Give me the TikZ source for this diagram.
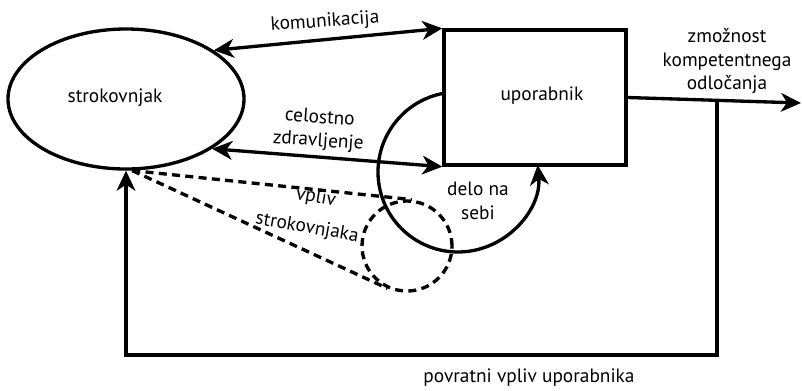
\documentclass[tikz,border=0pt]{standalone}
\usepackage{fontspec}
\setmainfont{PT Sans}
\usetikzlibrary{arrows.meta,shapes.geometric,calc}
\begin{document}
\begin{tikzpicture}[x=0.75pt,y=-0.75pt,
  line width=2.5pt,
  lbl/.style={font=\fontsize{14.5}{17.5}\selectfont, inner sep=0pt, align=center},
  dsh/.style={dash pattern=on 6pt off 4pt},
  >={Stealth[length=15pt,width=14pt,inset=4.5pt]}]
\useasboundingbox (0,0) rectangle (802,390);
% main shapes
\node[draw, ellipse, minimum width=177pt, minimum height=105pt, inner sep=0pt] (s) at (126,99) {};
\node[lbl] (stxt) at (115,98) {strokovnjak};
\node[draw, minimum width=136.5pt, minimum height=101.25pt, inner sep=0pt] (u) at (535,97.5) {};
\node[lbl] (utxt) at (542,96) {uporabnik};
% dashed influence circle
\node[draw, dsh, circle, minimum size=67.5pt, inner sep=0pt] (dc) at (407,246) {};
\coordinate (sp) at (s.-85);
\draw[dsh] (sp) -- (tangent cs:node=dc,point={(sp)},solution=1);
\draw[dsh] (sp) -- (tangent cs:node=dc,point={(sp)},solution=2);
% arrows between
\draw[<->] (s.29) -- (u.north west);
\draw[<->] (s.-30) -- (u.south west);
\coordinate (outend) at (801,103);
\draw[->] (u.east) -- (outend);
% delo na sebi arc
\coordinate (arcstart) at (444.1,93.2);
\draw[->] (arcstart) arc[start angle=100, end angle=365, radius=60pt];
% feedback
\coordinate (fb) at (717,100.4);
\coordinate (fbc) at (717,355);
\draw[->] (fb) -- (fbc) -| (s.south);
% labels
\node[lbl, rotate=4] (lkom) at (325,22) {komunikacija};
\node[lbl, rotate=-4] (lcel) at (319,130) {celostno\\zdravljenje};
\node[lbl] (lzm) at (727,61) {zmožnost\\kompetentnega\\odločanja};
\node[lbl] (ldel) at (478,201) {delo na\\sebi};
\node[lbl, rotate=-10] (lvp1) at (316,198) {vpliv};
\node[lbl, rotate=-10] (lvp2) at (307,228) {strokovnjaka};
\node[lbl] (lpov) at (529,378) {povratni vpliv uporabnika};
\end{tikzpicture}
\end{document}
